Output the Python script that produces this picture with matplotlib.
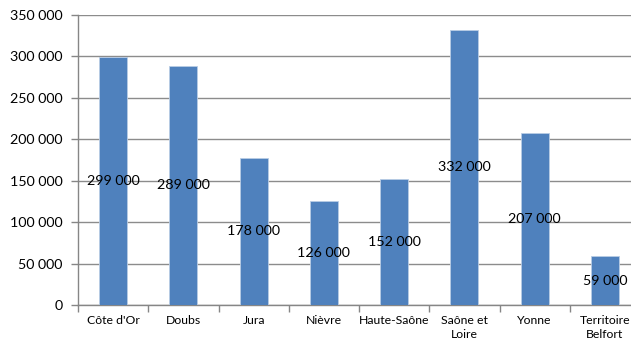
import matplotlib.pyplot as plt
import numpy as np
from matplotlib.ticker import FuncFormatter

# Données
departements = ["Côte d'Or", "Doubs", "Jura", "Nièvre", "Haute-Saône",
                "Saône et\nLoire", "Yonne", "Territoire\nBelfort"]
valeurs = [299000, 289000, 178000, 126000, 152000, 332000, 207000, 59000]
y_ticks = [0, 50000, 100000, 150000, 200000, 250000, 300000, 350000]

plt.rcParams['font.family'] = ['Lato', 'DejaVu Sans']

fig = plt.figure(figsize=(6.31, 3.42), dpi=100)
ax = fig.add_axes([78 / 631, 1 - 305 / 342, 562 / 631, 290 / 342])

x = np.arange(len(departements))
bars = ax.bar(x, valeurs, width=0.4, color='#4F81BD', edgecolor='#B9CDE5',
              linewidth=0.6, zorder=3)

def fmt(v, pos=None):
    return f"{int(v):,}".replace(",", " ")

# étiquettes au milieu des barres
for xi, v in zip(x, valeurs):
    ax.text(xi, v / 2, fmt(v), ha='center', va='center', fontsize=10.3,
            color='black', zorder=4)

ax.set_ylim(0, 350000)
ax.set_xlim(-0.5, len(departements) - 0.5)
ax.set_yticks(y_ticks)
ax.yaxis.set_major_formatter(FuncFormatter(fmt))
ax.grid(axis='y', color='#8C8C8C', linewidth=1, zorder=0)

ax.set_xticks(x)
ax.set_xticklabels(departements, fontsize=8.8, linespacing=1.35)
ax.set_xticks(np.arange(-0.5, len(departements)), minor=True)
ax.tick_params(axis='x', which='major', length=0, pad=7)
ax.tick_params(axis='x', which='minor', length=5, color='#868686', width=1)
ax.tick_params(axis='y', length=5, color='#868686', width=1, labelsize=10.3, pad=6)

for s in ['top', 'right']:
    ax.spines[s].set_visible(False)
for s in ['left', 'bottom']:
    ax.spines[s].set_color('#868686')
    ax.spines[s].set_linewidth(1)

fig.savefig('out.png', dpi=100)
